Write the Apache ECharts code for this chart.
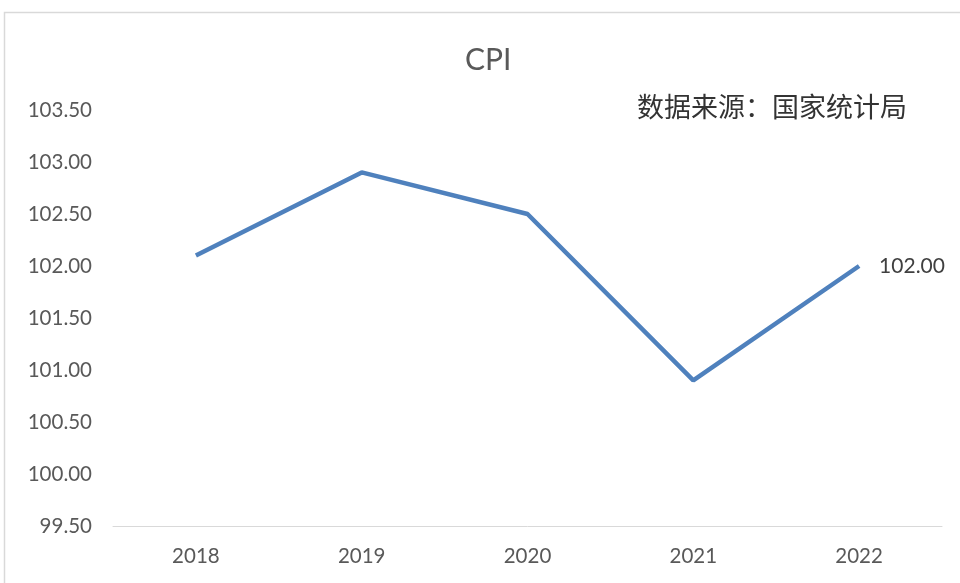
<!DOCTYPE html>
<html><head><meta charset="utf-8">
<script src="https://cdn.jsdelivr.net/npm/echarts@6/dist/echarts.min.js"></script>
<style>html,body{margin:0;padding:0;background:#fff}#c{width:960px;height:583px}</style>
</head><body><div id="c"></div>
<script>
const categories = ['2018','2019','2020','2021','2022'];
const cpiValues = [102.1, 102.9, 102.5, 100.9, 102.0];
const yTicks = { min: 99.5, max: 103.5, interval: 0.5 };
const titleText = 'CPI';
const sourceText = '数据来源：国家统计局';

const chart = echarts.init(document.getElementById('c'), null, {renderer:'canvas'});
const font = 'Lato, "Noto Sans", sans-serif';
chart.setOption({
  animation: false,
  backgroundColor: '#fff',
  title: { text: titleText, left: 460, top: 40, textStyle: { fontFamily: font, fontSize: 30, fontWeight: 'normal', color: '#595959' } },
  graphic: [
    { type: 'rect', shape: { x: 4.5, y: 12.5, width: 1000, height: 1000 }, style: { fill: 'none', stroke: '#d9d9d9', lineWidth: 1.5 }, silent: true },
    { type: 'text', left: 637, top: 93, style: { text: sourceText, font: '27px "Noto Sans CJK SC", sans-serif', fill: '#333333' } }
  ],
  grid: { left: 113, right: 18, top: 110, bottom: 57, containLabel: false },
  xAxis: {
    type: 'category', data: categories, boundaryGap: true,
    axisLine: { show: true, lineStyle: { color: '#d9d9d9', width: 1 } },
    axisTick: { show: false },
    axisLabel: { fontFamily: font, fontSize: 20.5, color: '#595959', margin: 20 }
  },
  yAxis: {
    type: 'value', min: yTicks.min, max: yTicks.max, interval: yTicks.interval,
    axisLine: { show: false }, axisTick: { show: false }, splitLine: { show: false },
    axisLabel: { fontFamily: font, fontSize: 20.5, color: '#595959', margin: 21, formatter: v => v.toFixed(2) }
  },
  series: [{
    type: 'line', data: cpiValues,
    showSymbol: false, symbol: 'none',
    lineStyle: { color: '#4f81bd', width: 4.5 },
    endLabel: { show: true, distance: 20, fontFamily: font, fontSize: 21, color: '#404040', formatter: p => p.value.toFixed(2) }
  }]
});
</script></body></html>
